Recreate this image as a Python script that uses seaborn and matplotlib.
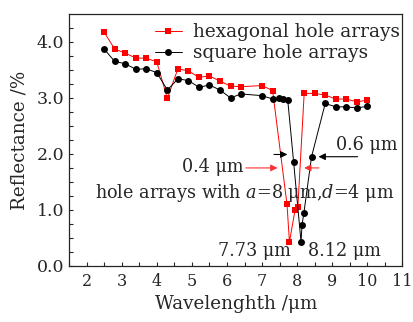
import matplotlib
matplotlib.use("Agg")
import matplotlib.pyplot as plt
import seaborn as sns
import pandas as pd

# wavelength (um) and reflectance (%)
hex_x = [2.5, 2.8, 3.1, 3.4, 3.7, 4.0, 4.3, 4.6, 4.9, 5.2, 5.5, 5.8, 6.1, 6.4, 7.0, 7.3,
         7.71, 7.78, 7.94, 8.02, 8.2, 8.5, 8.8, 9.1, 9.4, 9.7, 10.0]
hex_y = [4.17, 3.87, 3.80, 3.71, 3.71, 3.64, 2.99, 3.52, 3.48, 3.37, 3.39, 3.30, 3.21, 3.20, 3.22, 3.13,
         1.10, 0.43, 1.00, 1.06, 3.08, 3.08, 3.05, 2.98, 2.98, 2.93, 2.96]
sq_x = [2.5, 2.8, 3.1, 3.4, 3.7, 4.0, 4.3, 4.6, 4.9, 5.2, 5.5, 5.8, 6.1, 6.4, 7.0, 7.3,
        7.47, 7.6, 7.73, 7.9, 8.11, 8.14, 8.19, 8.41, 8.8, 9.1, 9.4, 9.7, 10.0]
sq_y = [3.87, 3.65, 3.61, 3.51, 3.52, 3.45, 3.14, 3.34, 3.31, 3.19, 3.23, 3.14, 3.00, 3.07, 3.04, 2.98,
        2.99, 2.98, 2.97, 1.85, 0.43, 0.74, 0.94, 1.95, 2.90, 2.84, 2.84, 2.82, 2.85]
labels = ["hexagonal hole arrays", "square hole arrays"]

df = pd.concat([
    pd.DataFrame({"wl": hex_x, "R": hex_y, "series": labels[0]}),
    pd.DataFrame({"wl": sq_x, "R": sq_y, "series": labels[1]}),
], ignore_index=True)

sns.set_style("ticks")
plt.rcParams["font.family"] = ["DejaVu Serif"]
plt.rcParams["mathtext.fontset"] = "dejavuserif"
plt.rcParams["xtick.direction"] = "in"
plt.rcParams["ytick.direction"] = "in"

fig, ax = plt.subplots(figsize=(4.14, 3.22), dpi=100)
fig.subplots_adjust(left=0.167, right=0.972, top=0.957, bottom=0.174)

sns.lineplot(data=df, x="wl", y="R", hue="series", style="series",
             palette={labels[0]: "red", labels[1]: "black"},
             markers={labels[0]: "s", labels[1]: "o"}, dashes=False,
             markersize=5, markeredgewidth=0, linewidth=0.7,
             estimator=None, sort=False, ax=ax)

ax.set_xlim(1.5, 11)
ax.set_ylim(0, 4.5)
ax.set_xticks(range(2, 12))
ax.set_xticks([x + 0.5 for x in range(1, 11)], minor=True)
ax.set_yticks([0, 1, 2, 3, 4])
ax.set_yticklabels(["0.0", "1.0", "2.0", "3.0", "4.0"])
ax.set_yticks([i * 0.25 for i in range(18)], minor=True)
ax.tick_params(which="both", length=3, width=0.8, labelsize=12.5)
ax.tick_params(axis="x", pad=5, labelsize=11.5)
for s in ax.spines.values():
    s.set_linewidth(0.9)

ax.set_xlabel("Wavelenghth /μm", fontsize=13.2, labelpad=4)
ax.set_ylabel("Reflectance /%", fontsize=13.2, labelpad=6)

leg = ax.legend(loc="upper right", bbox_to_anchor=(1.025, 1.006), frameon=False,
                fontsize=13.3, handlelength=1.45, handletextpad=0.6, labelspacing=0.15,
                borderaxespad=0.2)

# annotations
fs = 12.7
ax.text(6.46, 1.77, "0.4 μm", ha="right", va="center", fontsize=fs)
ax.annotate("", xy=(7.52, 1.75), xytext=(6.46, 1.75),
            arrowprops=dict(arrowstyle="-|>", color="#ff3333", lw=0.8))
ax.annotate("", xy=(8.12, 1.75), xytext=(8.7, 1.75),
            arrowprops=dict(arrowstyle="-|>", color="#ff3333", lw=0.8))
ax.annotate("", xy=(7.8, 1.99), xytext=(7.26, 1.99),
            arrowprops=dict(arrowstyle="-|>", color="black", lw=0.8))
ax.annotate("", xy=(8.53, 1.95), xytext=(9.8, 1.95),
            arrowprops=dict(arrowstyle="-|>", color="black", lw=0.8))
ax.text(9.12, 2.16, "0.6 μm", ha="left", va="center", fontsize=fs)
ax.text(2.25, 1.30, "hole arrays with $a$=8 μm,$d$=4 μm", ha="left", va="center", fontsize=fs)
ax.text(6.79, 0.26, "7.73 μm", ha="center", va="center", fontsize=fs)
ax.text(9.35, 0.26, "8.12 μm", ha="center", va="center", fontsize=fs)

fig.savefig("out.png", dpi=100)
